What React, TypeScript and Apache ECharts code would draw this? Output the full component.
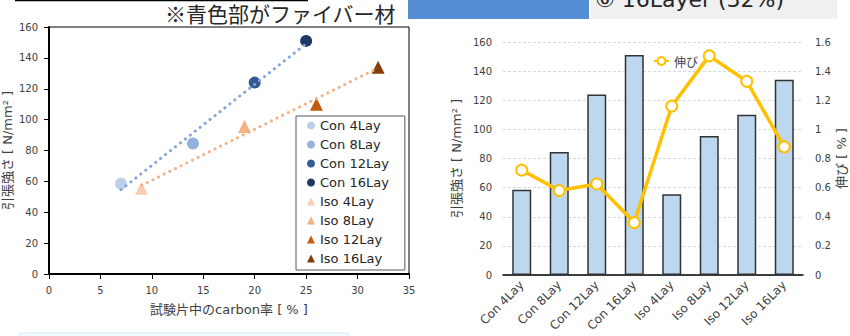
import React, { useEffect, useRef } from "react";
import * as echarts from "echarts";

const categories = ["Con 4Lay", "Con 8Lay", "Con 12Lay", "Con 16Lay", "Iso 4Lay", "Iso 8Lay", "Iso 12Lay", "Iso 16Lay"];
const carbonRate = [7, 14, 20, 25, 9, 19, 26, 32];
const tensileStrength = [58.5, 84.5, 124, 151, 55.5, 95.5, 110, 134];
const elongation = [0.72, 0.58, 0.625, 0.36, 1.16, 1.505, 1.33, 0.88];
const markerColors = ["#bccfea", "#93b1dc", "#345a92", "#1f3864", "#f9cdb1", "#f4b183", "#c55a11", "#843c0c"];
const conIdx = [0, 1, 2, 3];
const isoIdx = [4, 5, 6, 7];

const LATIN = "'DejaVu Sans', 'Noto Sans CJK JP', sans-serif";
const CJK = "'Noto Sans CJK JP', 'DejaVu Sans', sans-serif";
const TXT = "#404040";

function fit(idx: number[]) {
  const xs = idx.map((i) => carbonRate[i]);
  const ys = idx.map((i) => tensileStrength[i]);
  const n = xs.length;
  const mx = xs.reduce((a, b) => a + b, 0) / n;
  const my = ys.reduce((a, b) => a + b, 0) / n;
  let sxy = 0, sxx = 0;
  for (let k = 0; k < n; k++) {
    sxy += (xs[k] - mx) * (ys[k] - my);
    sxx += (xs[k] - mx) * (xs[k] - mx);
  }
  const slope = sxy / sxx;
  const intercept = my - slope * mx;
  const x0 = Math.min(...xs), x1 = Math.max(...xs);
  return [[x0, intercept + slope * x0], [x1, intercept + slope * x1]];
}

export default function App() {
  const ref = useRef<HTMLDivElement>(null);
  useEffect(() => {
    document.body.style.margin = "0";
    const chart = echarts.init(ref.current!, null, { renderer: "svg" });
    const scatterSeries = categories.map((name, i) => ({
      type: "scatter",
      name,
      xAxisIndex: 0,
      yAxisIndex: 0,
      symbol: i < 4 ? "circle" : "triangle",
      symbolSize: i < 4 ? 12 : 13,
      itemStyle: { color: markerColors[i], opacity: 1 },
      data: [[carbonRate[i], tensileStrength[i]]],
      z: 2,
    }));
    const trend = (idx: number[], color: string) => ({
      type: "line",
      xAxisIndex: 0,
      yAxisIndex: 0,
      data: fit(idx),
      showSymbol: false,
      symbol: "none",
      silent: true,
      z: 3,
      lineStyle: { color, width: 3, type: [0.1, 6.2], cap: "round" },
    });
    const option: any = {
      animation: false,
      textStyle: { fontFamily: LATIN },
      grid: [
        { left: 48, top: 27, width: 361, height: 247, show: true, borderColor: "#000", borderWidth: 1, backgroundColor: "transparent" },
        { left: 503, top: 42, width: 300, height: 233 },
      ],
      legend: [
        {
          data: categories.map((name, i) => ({ name, icon: i < 4 ? "circle" : "triangle" })),
          orient: "vertical",
          left: 296,
          top: 116,
          padding: [3, 16, 5, 11],
          itemWidth: 8,
          itemHeight: 8,
          itemGap: 6,
          borderColor: "#595959",
          borderWidth: 1,
          backgroundColor: "#fff",
          textStyle: { fontSize: 13, color: "#262626", fontFamily: LATIN },
          selectedMode: false,
        },
        {
          data: ["伸び"],
          left: 653,
          top: 55,
          padding: 0,
          itemWidth: 15,
          itemHeight: 10,
          textStyle: { fontSize: 12, color: TXT, fontFamily: CJK },
          selectedMode: false,
        },
      ],
      xAxis: [
        {
          type: "value",
          gridIndex: 0,
          min: 0,
          max: 35,
          interval: 5,
          axisLine: { show: true, onZero: false, lineStyle: { color: "#000", width: 2 } },
          axisTick: { show: true, length: 5, lineStyle: { color: "#000" } },
          axisLabel: { fontSize: 10, color: TXT, margin: 11 },
          splitLine: { show: false },
          name: "試験片中のcarbon率 [ % ]",
          nameLocation: "middle",
          nameGap: 29,
          nameTextStyle: { fontSize: 13, color: TXT, fontFamily: LATIN },
        },
        {
          type: "category",
          gridIndex: 1,
          data: categories,
          axisLine: { show: true, lineStyle: { color: "#000", width: 1.5 } },
          axisTick: { show: false },
          axisLabel: { rotate: 45, fontSize: 12, color: TXT, margin: 8, interval: 0 },
        },
      ],
      yAxis: [
        {
          type: "value",
          gridIndex: 0,
          min: 0,
          max: 160,
          interval: 20,
          axisLine: { show: true, onZero: false, lineStyle: { color: "#000", width: 2 } },
          axisTick: { show: true, length: 5, lineStyle: { color: "#000" } },
          axisLabel: { fontSize: 10, color: TXT, margin: 11 },
          splitLine: { show: false },
          name: "引張強さ [ N/mm² ]",
          nameLocation: "middle",
          nameRotate: 90,
          nameGap: 35,
          nameTextStyle: { fontSize: 13, color: TXT, fontFamily: LATIN },
        },
        {
          type: "value",
          gridIndex: 1,
          position: "left",
          min: 0,
          max: 160,
          interval: 20,
          axisLine: { show: false },
          axisTick: { show: false },
          axisLabel: { fontSize: 10, color: TXT, margin: 11 },
          splitLine: { show: true, lineStyle: { color: "#d9d9d9", width: 1, type: [3, 2] } },
          name: "引張強さ [ N/mm² ]",
          nameLocation: "middle",
          nameRotate: 90,
          nameGap: 40,
          nameTextStyle: { fontSize: 13, color: TXT, fontFamily: LATIN },
        },
        {
          type: "value",
          gridIndex: 1,
          position: "right",
          min: 0,
          max: 1.6,
          interval: 0.2,
          axisLine: { show: false },
          axisTick: { show: false },
          axisLabel: { fontSize: 10, color: TXT, margin: 12 },
          splitLine: { show: false },
          name: "伸び [ % ]",
          nameLocation: "middle",
          nameRotate: 90,
          nameGap: 32,
          nameTextStyle: { fontSize: 13, color: TXT, fontFamily: LATIN },
        },
      ],
      series: [
        ...scatterSeries,
        trend(conIdx, "#86a4da"),
        trend(isoIdx, "#f4b183"),
        {
          type: "bar",
          name: "引張強さ",
          xAxisIndex: 1,
          yAxisIndex: 1,
          data: tensileStrength,
          barWidth: 19,
          itemStyle: { color: "#bdd7ee", borderColor: "#333", borderWidth: 1.5 },
        },
        {
          type: "line",
          name: "伸び",
          xAxisIndex: 1,
          yAxisIndex: 2,
          data: elongation,
          symbol: "emptyCircle",
          symbolSize: 11,
          lineStyle: { color: "#ffc000", width: 3.5 },
          itemStyle: { color: "#ffc000", borderWidth: 3 },
          z: 5,
        },
      ],
      graphic: [
        { type: "line", shape: { x1: 15, y1: 0.5, x2: 308, y2: 0.5 }, style: { stroke: "#000", lineWidth: 1.5 } },
        {
          type: "text",
          x: 165,
          y: 13,
          style: { text: "※青色部がファイバー材", fontSize: 21, fontFamily: CJK, fill: "#262626", verticalAlign: "middle" },
        },
        { type: "rect", shape: { x: 408, y: 0, width: 181, height: 19 }, style: { fill: "#558ed5" } },
        { type: "rect", shape: { x: 591, y: 0, width: 246, height: 19 }, style: { fill: "#f0f0f0" } },
        {
          type: "text",
          x: 595,
          y: 10,
          style: { text: "⑥ 16Layer (32%)", fontSize: 22, fontFamily: LATIN, fill: "#262626", verticalAlign: "bottom" },
        },
        { type: "rect", shape: { x: 20, y: 333, width: 328, height: 6 }, style: { fill: "#f2fcff", stroke: "#cfeff9", lineWidth: 1 } },
      ],
    };
    chart.setOption(option);
    return () => chart.dispose();
  }, []);
  return <div ref={ref} style={{ position: "absolute", left: 0, top: 0, width: 850, height: 336 }} />;
}
